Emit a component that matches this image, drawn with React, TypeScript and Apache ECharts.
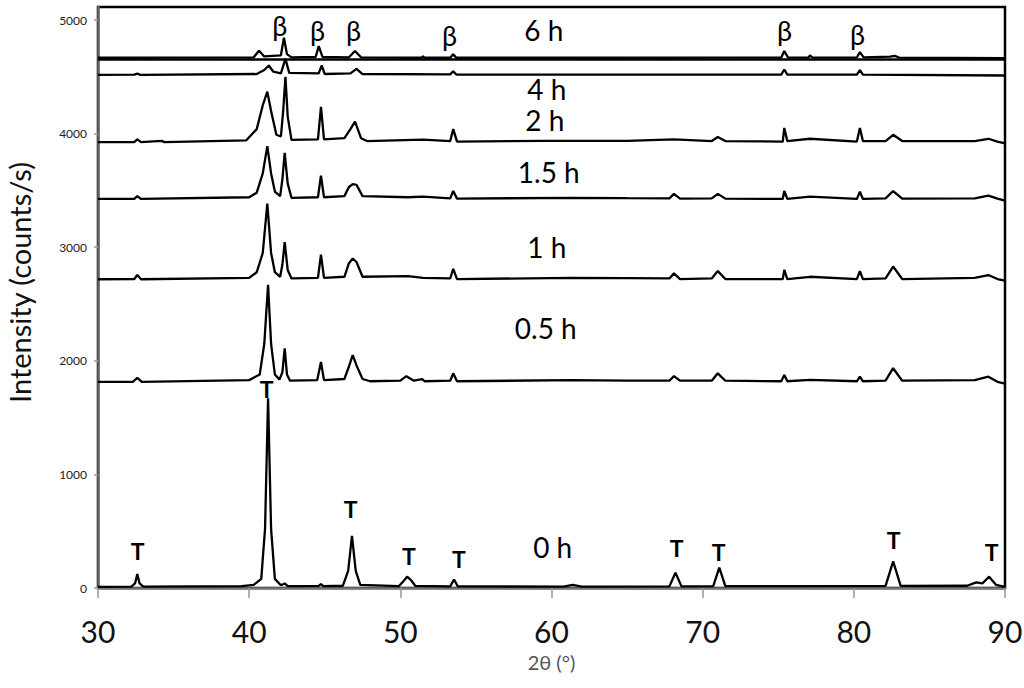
import React, { useEffect, useRef } from "react";
import * as echarts from "echarts";

// ---------- data (2θ in degrees, intensity in counts/s) ----------
const trace0h: [number, number][] = [
  [30, 10], [32.2, 12], [32.45, 40], [32.6, 122], [32.75, 40], [33.0, 12],
  [39.5, 16], [40.3, 28], [40.8, 80], [41.05, 520], [41.25, 1670], [41.45, 520], [41.7, 80],
  [42.1, 24], [42.35, 40], [42.55, 16], [44.6, 18], [44.75, 35], [44.9, 16],
  [46.2, 20], [46.55, 150], [46.8, 460], [47.05, 150], [47.35, 28],
  [49.9, 16], [50.2, 60], [50.45, 100], [50.7, 70], [51.0, 18],
  [53.3, 14], [53.55, 75], [53.8, 14],
  [60.8, 12], [61.4, 28], [62.0, 12],
  [67.8, 14], [68.2, 135], [68.6, 14],
  [70.7, 16], [71.1, 180], [71.5, 16],
  [82.1, 18], [82.6, 235], [83.1, 18],
  [87.5, 20], [88.1, 50], [88.5, 40], [88.95, 100], [89.4, 28], [90, 10],
];

const trace05h: [number, number][] = [
  [30, 1815], [32.3, 1815], [32.6, 1850], [32.9, 1815],
  [40.0, 1830], [40.7, 1880], [41.0, 2150], [41.25, 2670], [41.45, 2150], [41.7, 1880],
  [42.0, 1835], [42.2, 1900], [42.35, 2110], [42.5, 1880], [42.7, 1825],
  [44.5, 1830], [44.75, 1990], [44.95, 1830],
  [46.3, 1840], [46.6, 1950], [46.85, 2050], [47.1, 1960], [47.5, 1840], [48.0, 1820],
  [50.0, 1825], [50.4, 1865], [50.9, 1825], [51.45, 1838], [51.6, 1820],
  [53.3, 1825], [53.5, 1890], [53.75, 1820],
  [61.3, 1830], [65.0, 1826], [67.8, 1825], [68.1, 1865], [68.5, 1825],
  [70.6, 1825], [71.0, 1890], [71.5, 1825],
  [75.2, 1820], [75.4, 1875], [75.6, 1820], [77.1, 1832],
  [80.2, 1820], [80.4, 1860], [80.6, 1820],
  [82.1, 1825], [82.6, 1935], [83.2, 1825],
  [88.0, 1830], [88.9, 1860], [89.5, 1815], [90, 1800],
];

const trace1h: [number, number][] = [
  [30, 2718], [32.4, 2720], [32.6, 2755], [32.85, 2718],
  [40.0, 2730], [40.5, 2780], [40.9, 2950], [41.2, 3385], [41.45, 2950], [41.7, 2780],
  [42.05, 2740], [42.2, 2850], [42.35, 3045], [42.55, 2800], [42.8, 2725],
  [44.55, 2730], [44.75, 2935], [44.95, 2730],
  [46.3, 2740], [46.6, 2860], [46.85, 2900], [47.1, 2870], [47.5, 2740],
  [50.5, 2745], [51.5, 2730], [53.3, 2725], [53.5, 2810], [53.75, 2720],
  [61.3, 2730], [65.0, 2728], [67.8, 2725], [68.1, 2770], [68.5, 2720],
  [70.6, 2725], [71.0, 2790], [71.5, 2720],
  [75.3, 2720], [75.4, 2800], [75.6, 2720], [77.1, 2740],
  [80.2, 2720], [80.4, 2790], [80.6, 2720],
  [82.1, 2725], [82.6, 2830], [83.2, 2720],
  [88.0, 2730], [88.9, 2755], [89.5, 2720], [90, 2705],
];

const trace15h: [number, number][] = [
  [30, 3425], [32.4, 3425], [32.6, 3450], [32.85, 3425],
  [40.0, 3440], [40.5, 3480], [40.9, 3650], [41.2, 3890], [41.45, 3650], [41.7, 3490],
  [42.05, 3450], [42.2, 3600], [42.35, 3830], [42.55, 3560], [42.8, 3435],
  [44.55, 3440], [44.75, 3630], [44.95, 3440],
  [46.3, 3450], [46.6, 3530], [46.85, 3555], [47.1, 3550], [47.5, 3450],
  [50.5, 3440], [51.5, 3445], [53.3, 3430], [53.5, 3495], [53.75, 3428],
  [61.3, 3435], [65.0, 3432], [67.8, 3430], [68.1, 3470], [68.5, 3428],
  [70.6, 3430], [71.0, 3470], [71.5, 3428],
  [75.3, 3425], [75.4, 3495], [75.6, 3425], [77.1, 3445],
  [80.2, 3425], [80.4, 3490], [80.6, 3425],
  [82.1, 3430], [82.6, 3495], [83.2, 3428],
  [88.0, 3430], [88.9, 3455], [89.5, 3428], [90, 3410],
];

const trace2h: [number, number][] = [
  [30, 3925], [32.4, 3925], [32.6, 3950], [32.85, 3925], [34.2, 3937], [34.4, 3925],
  [39.8, 3940], [40.5, 4040], [40.9, 4250], [41.2, 4370], [41.45, 4200], [41.8, 3990],
  [42.1, 3975], [42.25, 4200], [42.4, 4500], [42.55, 4150], [42.8, 3945],
  [44.55, 3950], [44.75, 4235], [44.95, 3950],
  [46.3, 3960], [46.7, 4040], [47.0, 4105], [47.4, 3960], [47.8, 3935],
  [51.5, 3948], [53.3, 3935], [53.5, 4040], [53.75, 3930],
  [59.5, 3937], [61.3, 3937], [65.0, 3937], [68.1, 3950],
  [70.6, 3935], [71.0, 3970], [71.5, 3935],
  [75.3, 3930], [75.4, 4050], [75.6, 3935], [77.1, 3955],
  [80.2, 3930], [80.4, 4050], [80.6, 3935],
  [82.1, 3935], [82.6, 3990], [83.2, 3935],
  [88.0, 3935], [88.9, 3955], [89.5, 3930], [90, 3915],
];

const trace4h: [number, number][] = [
  [30, 4518], [32.4, 4520], [32.6, 4528], [32.8, 4518],
  [40.5, 4525], [41.0, 4560], [41.3, 4600], [41.6, 4545],
  [42.1, 4530], [42.4, 4660], [42.65, 4535],
  [44.6, 4530], [44.8, 4600], [45.0, 4525],
  [46.7, 4530], [47.1, 4570], [47.5, 4525],
  [53.3, 4522], [53.5, 4550], [53.7, 4520],
  [75.2, 4520], [75.4, 4565], [75.6, 4520],
  [80.2, 4520], [80.4, 4560], [80.6, 4520], [90, 4512],
];

const trace6h: [number, number][] = [
  [30, 4668], [40.3, 4672], [40.65, 4730], [41.0, 4680],
  [42.1, 4690], [42.3, 4845], [42.5, 4700], [42.8, 4672],
  [44.4, 4675], [44.6, 4771], [44.85, 4675],
  [46.6, 4672], [47.0, 4727], [47.4, 4672],
  [51.4, 4668], [51.5, 4682], [51.6, 4668],
  [53.3, 4668], [53.5, 4698], [53.7, 4668],
  [75.2, 4670], [75.4, 4727], [75.65, 4670],
  [77.0, 4670], [77.1, 4690], [77.25, 4670],
  [80.2, 4670], [80.4, 4718], [80.65, 4672],
  [82.4, 4678], [82.7, 4685], [83.0, 4670], [90, 4665],
];

const frameLine6h = 4652;

// annotations: [2θ, intensity] of each label centre
const betaMarks: [number, number][] = [
  [42.02, 4948], [44.53, 4904], [46.91, 4904], [53.26, 4860], [75.42, 4904], [80.25, 4877],
];
const tMarks: [number, number][] = [
  [32.63, 326], [41.16, 1752], [46.72, 696], [50.56, 282], [53.87, 255],
  [68.28, 352], [71.06, 317], [82.64, 423], [89.12, 317],
];
const timeNames = ["6 h", "4 h", "2 h", "1.5 h", "1 h", "0.5 h", "0 h"];
const timePos: [number, number][] = [
  [59.49, 4913], [59.69, 4392], [59.56, 4124], [59.82, 3662], [59.69, 3002], [59.62, 2289], [60.08, 361],
];

const X_MIN = 30, X_MAX = 90, X_STEP = 10;
const Y_MIN = 0, Y_MAX = 5115, Y_STEP = 1000;

const FONT = 'Lato, "Open Sans", "DejaVu Sans", sans-serif';

export default function App() {
  const ref = useRef<HTMLDivElement>(null);
  useEffect(() => {
    if (!ref.current) return;
    const chart = echarts.init(ref.current, undefined, { renderer: "svg" });
    const traces = [trace0h, trace05h, trace1h, trace15h, trace2h, trace4h, trace6h];
    const lineSeries: any[] = traces.map((d, i) => ({
      type: "line",
      data: d,
      symbol: "none",
      lineStyle: { color: "#000", width: 2.3 },
      z: 3,
      ...(i === 6
        ? {
            markLine: {
              silent: true,
              symbol: "none",
              label: { show: false },
              lineStyle: { color: "#000", width: 2.5, type: "solid" },
              data: [{ yAxis: frameLine6h }],
            },
          }
        : {}),
    }));
    const labelSeries = (data: any[], style: any) => ({
      type: "scatter",
      data,
      symbolSize: 1,
      itemStyle: { color: "transparent" },
      silent: true,
      z: 5,
      label: { show: true, position: "inside", formatter: "{b}", color: "#000", opacity: 1, fontFamily: FONT, ...style },
    });
    chart.setOption({
      animation: false,
      grid: {
        left: 98, right: 19, top: 7, bottom: 100, show: true, borderColor: "#000", borderWidth: 2.5,
        backgroundColor: "transparent", containLabel: false, outerBoundsMode: "none",
      },
      xAxis: {
        type: "value",
        min: X_MIN, max: X_MAX, interval: X_STEP,
        axisLine: { show: true, onZero: false, lineStyle: { color: "#777", width: 2.5 } },
        axisTick: { show: true, length: 10, lineStyle: { color: "#999", width: 1.5 } },
        axisLabel: { fontSize: 30, fontFamily: FONT, color: "#111", margin: 28 },
        splitLine: { show: false },
        name: "2θ (°)",
        nameLocation: "middle",
        nameGap: 64,
        nameTextStyle: { fontSize: 20, fontFamily: FONT, color: "#555" },
      },
      yAxis: {
        type: "value",
        min: Y_MIN, max: Y_MAX, interval: Y_STEP,
        axisLine: { show: true, onZero: false, lineStyle: { color: "#666", width: 2.5 } },
        axisTick: { show: true, length: 4, lineStyle: { color: "#999", width: 1.5 } },
        axisLabel: {
          fontSize: 12, fontFamily: FONT, color: "#222", margin: 11, showMaxLabel: false,
          formatter: (v: number) => String(v),
        },
        splitLine: { show: false },
        name: "Intensity (counts/s)",
        nameLocation: "middle",
        nameGap: 64,
        nameRotate: 90,
        nameTextStyle: { fontSize: 29, fontFamily: FONT, color: "#111", padding: [0, 0, 0, 30] },
      },
      series: [
        ...lineSeries,
        labelSeries(betaMarks.map((v) => ({ name: "β", value: v })), { fontSize: 27 }),
        labelSeries(tMarks.map((v) => ({ name: "T", value: v })), { fontSize: 23, fontWeight: "bold" }),
        labelSeries(timePos.map((v, i) => ({ name: timeNames[i], value: v })), { fontSize: 28 }),
      ],
    });
    return () => chart.dispose();
  }, []);
  return (
    <div
      ref={ref}
      style={{ position: "fixed", left: 0, top: 0, width: 1024, height: 688, background: "#fff" }}
    />
  );
}
